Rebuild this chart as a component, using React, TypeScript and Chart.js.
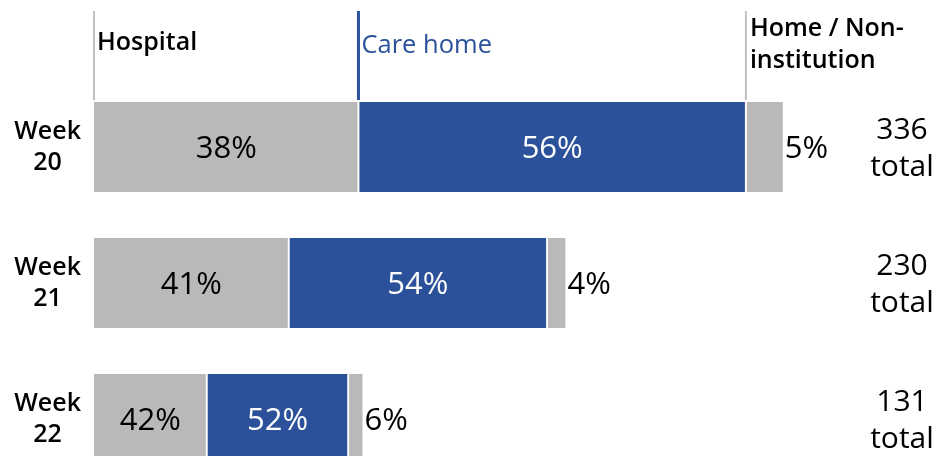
import React, { useEffect, useRef } from "react";
import { Chart, registerables } from "chart.js";

Chart.register(...registerables);

// ---- data ----
const weeks: string[][] = [["Week", "20"], ["Week", "21"], ["Week", "22"]];
const hospital = [129, 95, 55];
const careHome = [189, 126, 69];
const homeNonInst = [18, 9, 7];
const hospitalPct = ["38%", "41%", "42%"];
const careHomePct = ["56%", "54%", "52%"];
const homePct = ["5%", "4%", "6%"];
const totalWord = "total";
const headerHospital = "Hospital";
const headerCare = "Care home";
const headerHome = ["Home / Non-", "institution"];

// ---- styles ----
const FONT = "'Open Sans', 'Noto Sans', sans-serif";
const GRAY = "#b9b9b9";
const BLUE = "#2a5199";
const LINE_GRAY = "#c0c0c0";

const labelPlugin = {
  id: "customLabels",
  afterDatasetsDraw(chart: any) {
    const ctx = chart.ctx as CanvasRenderingContext2D;
    const pctSets = [hospitalPct, careHomePct, homePct];
    ctx.save();
    const fs = 31;
    ctx.textBaseline = "alphabetic";
    chart.data.datasets.forEach((_ds: any, di: number) => {
      const meta = chart.getDatasetMeta(di);
      meta.data.forEach((el: any, i: number) => {
        const { x, y, base } = el.getProps(["x", "y", "base"], true);
        const txt = pctSets[di][i];
        const by = y + 0.357 * fs;
        if (di < 2) {
          ctx.font = `${fs}px ${FONT}`;
          ctx.textAlign = "center";
          ctx.fillStyle = di === 1 ? "#ffffff" : "#000000";
          ctx.fillText(txt, (x + base) / 2, by);
        } else {
          ctx.font = `500 ${fs}px ${FONT}`;
          ctx.textAlign = "left";
          ctx.fillStyle = "#000000";
          ctx.fillText(txt, x + 2, by);
        }
      });
    });

    // totals on the right
    const tfs = 30;
    ctx.font = `${tfs}px ${FONT}`;
    ctx.textAlign = "center";
    ctx.fillStyle = "#000000";
    const meta0 = chart.getDatasetMeta(0);
    meta0.data.forEach((el: any, i: number) => {
      const { y } = el.getProps(["y"], true);
      const total = hospital[i] + careHome[i] + homeNonInst[i];
      const tx = chart.width - 49;
      const lh = 37;
      const b1 = y + 0.357 * tfs - lh / 2;
      ctx.fillText(String(total), tx, b1);
      ctx.fillText(totalWord, tx, b1 + lh);
    });

    // header lines + labels (aligned to first bar's segment starts)
    const xs = chart.scales.x;
    const x0 = xs.getPixelForValue(0);
    const x1 = xs.getPixelForValue(hospital[0]);
    const x2 = xs.getPixelForValue(hospital[0] + careHome[0]);
    const top = 11;
    const bottom = 100;
    const drawLine = (x: number, color: string, w: number) => {
      ctx.beginPath();
      ctx.strokeStyle = color;
      ctx.lineWidth = w;
      ctx.moveTo(x, top);
      ctx.lineTo(x, bottom);
      ctx.stroke();
    };
    drawLine(x0, LINE_GRAY, 2);
    drawLine(x1, BLUE, 3);
    drawLine(x2, LINE_GRAY, 2);

    const hfs = 25;
    ctx.textAlign = "left";
    ctx.font = `600 ${hfs}px ${FONT}`;
    ctx.fillStyle = "#000000";
    ctx.fillText(headerHospital, x0 + 3, 50);
    ctx.font = `${hfs + 0.5}px ${FONT}`;
    ctx.fillStyle = BLUE;
    ctx.fillText(headerCare, x1 + 3, 53);
    ctx.font = `600 ${hfs}px ${FONT}`;
    ctx.fillStyle = "#000000";
    ctx.fillText(headerHome[0], x2 + 4, 36);
    ctx.fillText(headerHome[1], x2 + 4, 68);
    ctx.restore();
  },
};

export default function App() {
  const canvasRef = useRef<HTMLCanvasElement | null>(null);

  useEffect(() => {
    if (!canvasRef.current) return;
    const bw = 1.3;
    const chart = new Chart(canvasRef.current, {
      type: "bar",
      data: {
        labels: weeks as any,
        datasets: [
          {
            label: "Hospital",
            data: hospital,
            backgroundColor: GRAY,
            borderColor: "#ffffff",
            borderWidth: { top: 0, bottom: 0, left: 0, right: bw },
            borderSkipped: false,
            barThickness: 90,
          },
          {
            label: "Care home",
            data: careHome,
            backgroundColor: BLUE,
            borderColor: "#ffffff",
            borderWidth: { top: 0, bottom: 0, left: bw, right: bw },
            borderSkipped: false,
            barThickness: 90,
          },
          {
            label: "Home / Non-institution",
            data: homeNonInst,
            backgroundColor: GRAY,
            borderColor: "#ffffff",
            borderWidth: { top: 0, bottom: 0, left: bw, right: 0 },
            borderSkipped: false,
            barThickness: 90,
          },
        ],
      },
      options: {
        indexAxis: "y",
        responsive: false,
        animation: false,
        events: [],
        layout: { padding: { left: 0, top: 79, right: 37, bottom: 3 } },
        plugins: {
          legend: { display: false },
          tooltip: { enabled: false },
        },
        scales: {
          x: {
            stacked: true,
            min: 0,
            max: 400,
            display: false,
          },
          y: {
            stacked: true,
            grid: { display: false, drawTicks: false },
            border: { display: false },
            afterFit: (scale: any) => {
              scale.width = 94;
              scale.paddingTop = 0;
              scale.paddingBottom = 0;
            },
            ticks: {
              crossAlign: "center",
              padding: 13,
              color: "#000000",
              font: { family: FONT, size: 25, weight: "600", lineHeight: 1.24 },
            },
          },
        },
      },
      plugins: [labelPlugin],
    } as any);
    return () => chart.destroy();
  }, []);

  return (
    <div
      style={{
        position: "absolute",
        left: 0,
        top: 0,
        width: 951,
        height: 456,
        overflow: "hidden",
        background: "#ffffff",
      }}
    >
      <canvas ref={canvasRef} width={951} height={490} style={{ display: "block" }} />
    </div>
  );
}
